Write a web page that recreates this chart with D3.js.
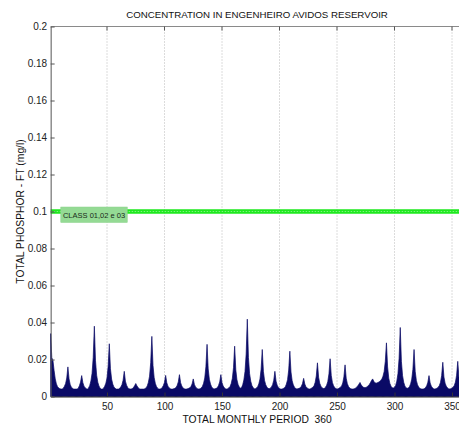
<!DOCTYPE html>
<html>
<head>
<meta charset="utf-8">
<script src="https://cdn.jsdelivr.net/npm/d3@7"></script>
<style>
  html, body { margin: 0; padding: 0; background: #fff; }
  svg { display: block; font-family: "Liberation Sans", Arial, sans-serif; }
</style>
</head>
<body>
<svg id="chart" width="459" height="425"></svg>
<script>
// Total phosphorus, monthly values (mg/l), one row per year, months 1..360
const phosphorus = [
  0.034, 0.021, 0.0195, 0.014, 0.0095, 0.0068, 0.0053, 0.0046, 0.0042, 0.004, 0.004, 0.0045,
  0.0055, 0.007, 0.010, 0.016, 0.0095, 0.0065, 0.005, 0.0045, 0.004, 0.004, 0.004, 0.004,
  0.0045, 0.0058, 0.0078, 0.0113, 0.0075, 0.0056, 0.0047, 0.0042, 0.004, 0.0046, 0.006, 0.0084,
  0.0125, 0.021, 0.038, 0.0193, 0.0115, 0.0077, 0.0057, 0.0045, 0.004, 0.004, 0.0045, 0.0055,
  0.0072, 0.010, 0.0163, 0.0285, 0.015, 0.0094, 0.0067, 0.0052, 0.0044, 0.004, 0.004, 0.004,
  0.0044, 0.0052, 0.0064, 0.0088, 0.0136, 0.0083, 0.0061, 0.0049, 0.0042, 0.004, 0.004, 0.0043,
  0.0048, 0.0058, 0.007, 0.0058, 0.0048, 0.0042, 0.004, 0.004, 0.004, 0.004, 0.0042, 0.0047,
  0.0057, 0.0077, 0.011, 0.0183, 0.0325, 0.0168, 0.0103, 0.0071, 0.0054, 0.0045, 0.004, 0.004,
  0.0042, 0.0048, 0.0059, 0.0077, 0.0114, 0.0074, 0.0056, 0.0047, 0.0042, 0.004, 0.004, 0.0042,
  0.0044, 0.0048, 0.006, 0.0079, 0.0118, 0.0075, 0.0057, 0.0047, 0.0042, 0.004, 0.004, 0.0042,
  0.0044, 0.0047, 0.0054, 0.0068, 0.0095, 0.0065, 0.0052, 0.0045, 0.0041, 0.004, 0.0042, 0.0047,
  0.0055, 0.0072, 0.010, 0.0161, 0.0282, 0.0149, 0.0093, 0.0067, 0.0052, 0.0044, 0.004, 0.0042,
  0.0044, 0.0048, 0.006, 0.0079, 0.0118, 0.0075, 0.0057, 0.0047, 0.0042, 0.004, 0.0042, 0.0047,
  0.0054, 0.007, 0.0098, 0.0156, 0.0272, 0.0144, 0.009, 0.0065, 0.0052, 0.0045, 0.0048, 0.0063,
  0.0089, 0.0135, 0.0229, 0.0418, 0.021, 0.0123, 0.0082, 0.006, 0.0048, 0.0042, 0.0042, 0.0046,
  0.0053, 0.0068, 0.0094, 0.0147, 0.0254, 0.0136, 0.0087, 0.0064, 0.0051, 0.0044, 0.0042, 0.0045,
  0.0052, 0.0064, 0.0088, 0.0136, 0.0083, 0.0061, 0.0049, 0.0043, 0.004, 0.004, 0.0042, 0.0046,
  0.0052, 0.0067, 0.0091, 0.0143, 0.0245, 0.0132, 0.0085, 0.0063, 0.005, 0.0044, 0.0041, 0.0042,
  0.0044, 0.0047, 0.0055, 0.007, 0.0098, 0.0067, 0.0053, 0.0046, 0.0042, 0.004, 0.0042, 0.0046,
  0.005, 0.0058, 0.0076, 0.0111, 0.0182, 0.0104, 0.0071, 0.0056, 0.0047, 0.0043, 0.0044, 0.005,
  0.0061, 0.0081, 0.0122, 0.0204, 0.0114, 0.0076, 0.0058, 0.0048, 0.0043, 0.004, 0.0042, 0.0046,
  0.005, 0.0057, 0.0073, 0.0106, 0.0171, 0.0099, 0.0069, 0.0054, 0.0046, 0.0042, 0.004, 0.004,
  0.0042, 0.0045, 0.005, 0.0057, 0.0066, 0.0076, 0.0063, 0.0055, 0.005, 0.0048, 0.0049, 0.0052,
  0.0057, 0.0064, 0.0074, 0.0086, 0.0095, 0.0082, 0.0074, 0.0072, 0.0074, 0.0077, 0.0081, 0.0087,
  0.0095, 0.011, 0.0135, 0.019, 0.029, 0.016, 0.0099, 0.007, 0.0055, 0.0047, 0.0046, 0.005,
  0.006, 0.0083, 0.0123, 0.0207, 0.0373, 0.019, 0.0113, 0.0077, 0.0057, 0.0047, 0.0044, 0.0046,
  0.0053, 0.0068, 0.0094, 0.0147, 0.0254, 0.0136, 0.0087, 0.0064, 0.0051, 0.0044, 0.0041, 0.004,
  0.004, 0.0043, 0.0048, 0.0058, 0.0077, 0.0113, 0.0073, 0.0056, 0.0047, 0.0042, 0.004, 0.0042,
  0.0045, 0.005, 0.0059, 0.0077, 0.0113, 0.0185, 0.0105, 0.0072, 0.0056, 0.0047, 0.0042, 0.0041,
  0.0042, 0.0046, 0.005, 0.006, 0.0078, 0.0115, 0.019, 0.0107, 0.0073, 0.0056, 0.0048, 0.0045
];
const months = phosphorus.map((_, i) => i + 1);

// Quality class limit (classes 1, 2 and 3)
const classLimit = 0.1;
const classLabel = "CLASS 01,02 e 03";
const classSpan = [1, 360];

const xTicks = [50, 100, 150, 200, 250, 300, 350];
const yTicks = [0, 0.02, 0.04, 0.06, 0.08, 0.1, 0.12, 0.14, 0.16, 0.18, 0.2];

const titleText = "CONCENTRATION IN ENGENHEIRO AVIDOS RESERVOIR";
const xLabel = "TOTAL MONTHLY PERIOD  360";
const yLabel = "TOTAL PHOSPHOR - FT (mg/l)";

const svg = d3.select("#chart");
const plotL = 50.65, plotR = 463.5, plotT = 26.5, plotB = 396.5;

const x = d3.scaleLinear().domain([1, 360]).range([plotL, plotR]);
const y = d3.scaleLinear().domain([0, 0.2]).range([plotB, plotT]);

svg.append("rect").attr("width", 459).attr("height", 425).attr("fill", "#fff");

// vertical dotted grid
svg.append("g").selectAll("line").data(xTicks).join("line")
  .attr("x1", d => x(d)).attr("x2", d => x(d))
  .attr("y1", plotT).attr("y2", plotB)
  .attr("stroke", "#b8b8b8").attr("stroke-width", 1)
  .attr("stroke-dasharray", "1,2");

// phosphorus area
const area = d3.area()
  .x((d, i) => x(months[i]))
  .y0(y(0))
  .y1(d => y(d));
svg.append("path").datum(phosphorus)
  .attr("d", area)
  .attr("fill", "#0a0a66")
  .attr("stroke", "#0a0a66").attr("stroke-width", 0.7);

// class limit line
svg.append("line")
  .attr("x1", x(classSpan[0])).attr("x2", x(classSpan[1]))
  .attr("y1", y(classLimit)).attr("y2", y(classLimit))
  .attr("stroke", "#1ee81e").attr("stroke-width", 4.5);
svg.append("line")
  .attr("x1", x(classSpan[0])).attr("x2", x(classSpan[1]))
  .attr("y1", y(classLimit)).attr("y2", y(classLimit))
  .attr("stroke", "#7cf27c").attr("stroke-width", 1.2)
  .attr("stroke-dasharray", "1.5,1.5");

// class label box
const lab = svg.append("g").attr("transform", `translate(${x(9.8)},${y(classLimit) - 4.5})`);
lab.append("rect").attr("width", 66.5).attr("height", 15.5)
  .attr("fill", "#94da94").attr("stroke", "#8ad28a").attr("stroke-width", 0.5);
lab.append("text").attr("x", 2.2).attr("y", 10.8)
  .attr("font-size", 7.5).attr("fill", "#1a2a1a").text(classLabel);

// frame
svg.append("line").attr("x1", plotL).attr("x2", plotR).attr("y1", plotT).attr("y2", plotT)
  .attr("stroke", "#8a8a8a").attr("stroke-width", 1);
svg.append("line").attr("x1", plotR).attr("x2", plotR).attr("y1", plotT).attr("y2", plotB)
  .attr("stroke", "#8a8a8a").attr("stroke-width", 1);

// top ticks
svg.append("g").selectAll("line").data(xTicks).join("line")
  .attr("x1", d => x(d)).attr("x2", d => x(d))
  .attr("y1", plotT).attr("y2", plotT + 4)
  .attr("stroke", "#555");

// x axis
const xAxis = svg.append("g").attr("transform", `translate(0,${plotB})`)
  .call(d3.axisBottom(x).tickValues(xTicks).tickSize(-4).tickPadding(6).tickSizeOuter(0));
xAxis.select(".domain").attr("stroke", "#222");
xAxis.selectAll(".tick line").attr("stroke", "#333");
xAxis.selectAll("text").attr("font-size", 10).attr("fill", "#222")
  .attr("font-family", "Liberation Sans, Arial, sans-serif");

// y axis
const fmt = d => d === 0 ? "0" : String(+d.toFixed(2));
const yAxis = svg.append("g").attr("transform", `translate(${plotL},0)`)
  .call(d3.axisLeft(y).tickValues(yTicks).tickFormat(fmt).tickSize(-4).tickPadding(3.5).tickSizeOuter(0));
yAxis.select(".domain").attr("stroke", "#555");
yAxis.selectAll(".tick line").attr("stroke", "#555");
yAxis.selectAll("text").attr("font-size", 10).attr("fill", "#222")
  .attr("font-family", "Liberation Sans, Arial, sans-serif");

// title and labels
svg.append("text").attr("x", (plotL + plotR) / 2).attr("y", 18)
  .attr("text-anchor", "middle").attr("font-size", 9.7).attr("fill", "#111")
  .text(titleText);
svg.append("text").attr("x", (plotL + plotR) / 2).attr("y", 422.5)
  .attr("text-anchor", "middle").attr("font-size", 10.3).attr("fill", "#111")
  .style("white-space", "pre")
  .text(xLabel);
svg.append("text")
  .attr("transform", `translate(24,${(plotT + plotB) / 2}) rotate(-90)`)
  .attr("text-anchor", "middle").attr("font-size", 10.3).attr("fill", "#111")
  .text(yLabel);
</script>
</body>
</html>
